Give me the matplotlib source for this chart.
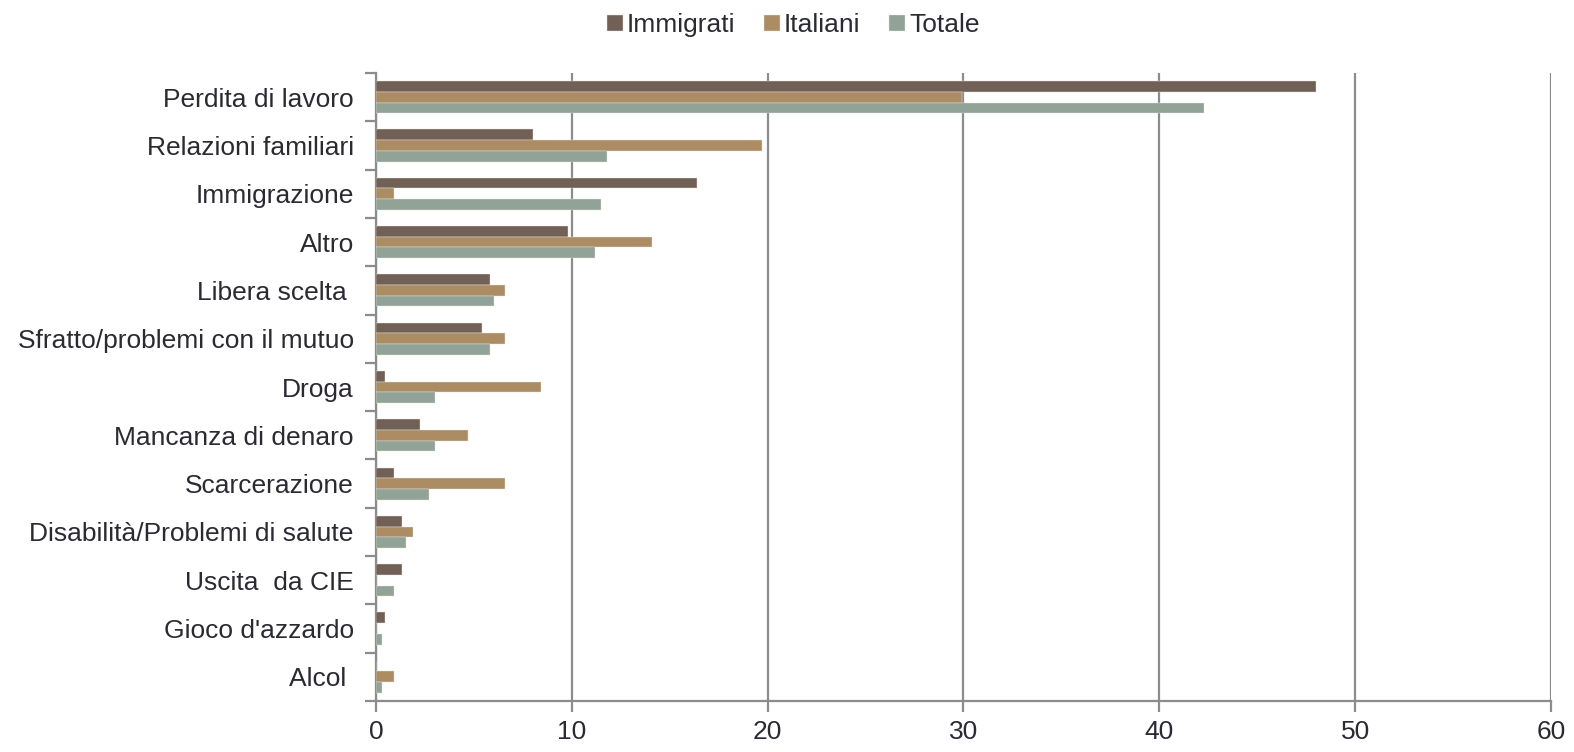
import numpy as np
import matplotlib

matplotlib.use("Agg")

import matplotlib.pyplot as plt

categories = [
    "Perdita di lavoro",
    "Relazioni familiari",
    "Immigrazione",
    "Altro",
    "Libera scelta ",
    "Sfratto/problemi con il mutuo",
    "Droga",
    "Mancanza di denaro",
    "Scarcerazione",
    "Disabilità/Problemi di salute",
    "Uscita  da CIE",
    "Gioco d'azzardo",
    "Alcol ",
]
immigrati = [48.0, 8.0, 16.4, 9.8, 5.8, 5.4, 0.45, 2.25, 0.9, 1.35, 1.35, 0.45, 0.0]
italiani = [29.9, 19.7, 0.9, 14.1, 6.6, 6.6, 8.4, 4.7, 6.6, 1.9, 0.0, 0.0, 0.9]
totale = [42.3, 11.8, 11.5, 11.2, 6.0, 5.8, 3.0, 3.0, 2.7, 1.55, 0.9, 0.3, 0.3]

series = [("Immigrati", immigrati, "#716056"),
          ("Italiani", italiani, "#ab8c63"),
          ("Totale", totale, "#91a297")]

plt.rcParams["font.family"] = ["Liberation Sans", "DejaVu Sans"]
text_color = "#2a2a33"
grid_color = "#8c8c8c"

fig = plt.figure(figsize=(15.74, 7.52), dpi=100)
ax = fig.add_axes([376 / 1574, 1 - 701 / 752, (1551 - 376) / 1574, (701 - 73) / 752])

n = len(categories)
y = np.arange(n)
h = 0.222
for i, (name, vals, col) in enumerate(series):
    ax.barh(y + (i - 1) * h, vals, height=h, color=col, label=name,
            edgecolor="#e8e4e0", linewidth=0.3, zorder=3)

ax.set_ylim(n - 0.5, -0.5)
ax.set_xlim(0, 60)
ax.set_xticks(range(0, 61, 10))
ax.set_yticks(y)
ax.set_yticklabels(categories)
ax.set_yticks(np.arange(-0.5, n, 1), minor=True)

ax.grid(axis="x", color=grid_color, linewidth=1.6, zorder=0)
ax.set_axisbelow(True)

for s in ["top", "right"]:
    ax.spines[s].set_visible(False)
for s in ["left", "bottom"]:
    ax.spines[s].set_color(grid_color)
    ax.spines[s].set_linewidth(1.6)

ax.tick_params(axis="y", which="major", length=0, pad=16, labelsize=19, labelcolor=text_color)
ax.tick_params(axis="y", which="minor", length=8, width=1.6, color=grid_color)
ax.tick_params(axis="x", length=8, width=1.6, color=grid_color, pad=6,
               labelsize=19, labelcolor=text_color)

leg = fig.legend(loc="upper center", bbox_to_anchor=(0.504, 1.014), ncol=3, frameon=False,
                 fontsize=19, handlelength=0.6, handleheight=0.6, handletextpad=0.15,
                 columnspacing=1.1)
for t in leg.get_texts():
    t.set_color(text_color)

fig.savefig("out.png", dpi=100)
plt.close(fig)
